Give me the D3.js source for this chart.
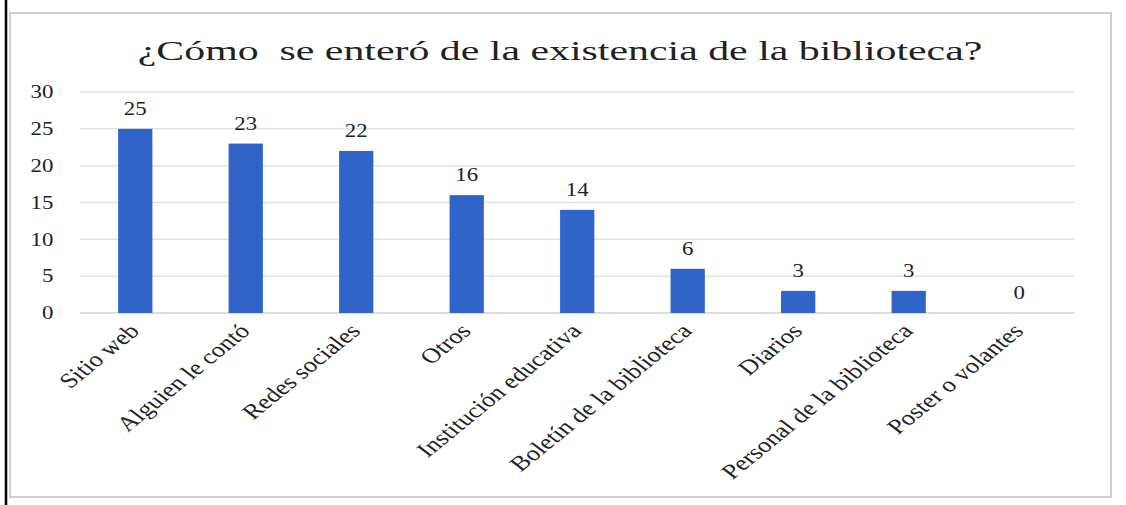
<!DOCTYPE html>
<html>
<head>
<meta charset="utf-8">
<script src="https://cdn.jsdelivr.net/npm/d3@7"></script>
<style>
  body { margin: 0; background: #fff; }
  text { font-family: "Liberation Serif", "Times New Roman", serif; fill: #222; }
</style>
</head>
<body>
<div id="my_dataviz"></div>
<script>
// data
var categories = ["Sitio web", "Alguien le contó", "Redes sociales", "Otros",
  "Institución educativa", "Boletín de la biblioteca", "Diarios",
  "Personal de la biblioteca", "Poster o volantes"];
var counts = [25, 23, 22, 16, 14, 6, 3, 3, 0];
var yTicks = [0, 5, 10, 15, 20, 25, 30];
var chartTitle = "¿Cómo  se enteró de la existencia de la biblioteca?";

// the original picture is stretched sideways, so the chart is drawn narrow then scaled
var sx = 1.27;
var W = 1126, H = 505;

var svg = d3.select("#my_dataviz")
  .append("svg")
    .attr("width", W)
    .attr("height", H);

// outer frame: black line on the left and the light grey chart box
svg.append("rect")
  .attr("x", 10).attr("y", 13)
  .attr("width", 1101).attr("height", 484)
  .attr("fill", "#fff")
  .attr("stroke", "#cfcfcf")
  .attr("stroke-width", 2);
svg.append("line")
  .attr("x1", 6).attr("x2", 6)
  .attr("y1", 0).attr("y2", H)
  .attr("stroke", "#000")
  .attr("stroke-width", 2.5);

var g = svg.append("g")
  .attr("transform", "scale(" + sx + ",1)");

// scales
var x = d3.scaleBand()
  .domain(categories)
  .range([63, 846])
  .paddingInner(0.69)
  .paddingOuter(0.345);

var y = d3.scaleLinear()
  .domain([0, 30])
  .range([313, 92]);

// gridlines
g.append("g")
  .selectAll("line")
  .data(yTicks)
  .enter()
  .append("line")
    .attr("x1", 63)
    .attr("x2", 846)
    .attr("y1", function(d) { return y(d); })
    .attr("y2", function(d) { return y(d); })
    .attr("stroke", function(d) { return d === 0 ? "#d2d2d2" : "#e2e2e2"; })
    .attr("stroke-width", 1.5);

// Y axis labels
var yAxis = g.append("g")
  .attr("transform", "translate(42,0)")
  .call(d3.axisLeft(y).tickValues(yTicks).tickSize(0).tickPadding(0));
yAxis.select(".domain").remove();
yAxis.selectAll("text")
  .style("font-size", "18px")
  .attr("font-family", null)
  .attr("fill", "#222");

// bars
g.selectAll("rect.bar")
  .data(counts)
  .enter()
  .append("rect")
    .attr("class", "bar")
    .attr("x", function(d, i) { return x(categories[i]); })
    .attr("y", function(d) { return y(d); })
    .attr("width", x.bandwidth())
    .attr("height", function(d) { return y(0) - y(d); })
    .attr("fill", "#3064c8");

// value labels
g.selectAll("text.val")
  .data(counts)
  .enter()
  .append("text")
    .attr("class", "val")
    .attr("x", function(d, i) { return x(categories[i]) + x.bandwidth() / 2; })
    .attr("y", function(d) { return y(d) - 14; })
    .attr("text-anchor", "middle")
    .style("font-size", "18px")
    .text(function(d) { return d; });

// X axis labels, rotated
g.selectAll("text.cat")
  .data(categories)
  .enter()
  .append("text")
    .attr("class", "cat")
    .attr("transform", function(d) {
      return "translate(" + (x(d) + x.bandwidth() / 2 - 1) + ",327) rotate(-46)";
    })
    .attr("text-anchor", "end")
    .attr("dy", "0.35em")
    .style("font-size", "21px")
    .text(function(d) { return d; });

// title
g.append("text")
  .attr("x", 441)
  .attr("y", 60)
  .attr("text-anchor", "middle")
  .attr("textLength", 665)
  .attr("lengthAdjust", "spacingAndGlyphs")
  .style("font-size", "28px")
  .style("white-space", "pre")
  .text(chartTitle);
</script>
</body>
</html>
